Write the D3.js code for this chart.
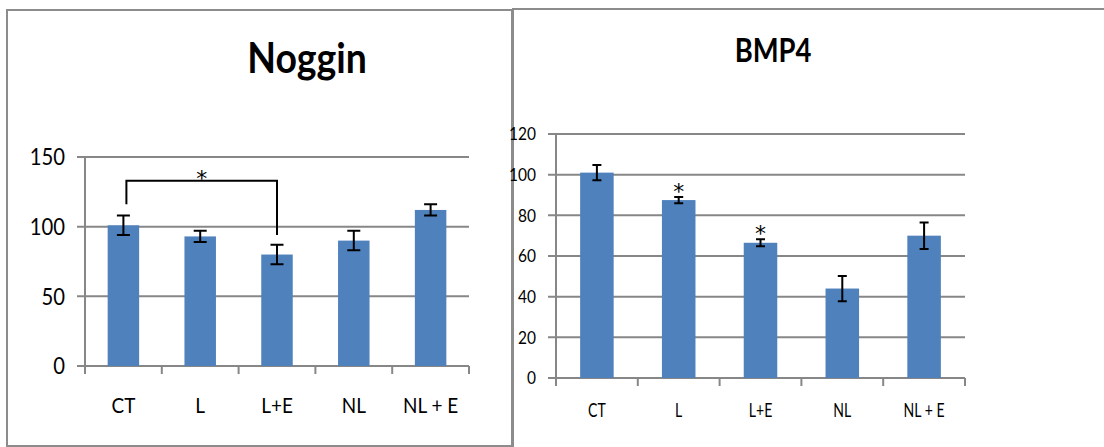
<!DOCTYPE html>
<html><head><meta charset="utf-8">
<script src="https://cdn.jsdelivr.net/npm/d3@7/dist/d3.min.js"></script>
<style>html,body{margin:0;padding:0;background:#fff;}svg{display:block;}</style>
</head><body>
<svg id="c" width="1104" height="447"></svg>
<script>
const categories = ["CT", "L", "L+E", "NL", "NL + E"];
const nogginMean = [101, 93, 80, 90, 112];
const nogginErr = [7, 4, 7, 7, 4];
const nogginTicks = [0, 50, 100, 150];
const bmp4Mean = [101, 87.5, 66.5, 44, 70];
const bmp4Err = [3.7, 1.5, 1.7, 6.2, 6.5];
const bmp4Ticks = [0, 20, 40, 60, 80, 100, 120];
const bmp4Stars = [1, 2];
const nogginBracket = {from: 0, to: 2, top: 133, leftEnd: 116, rightEnd: 94};

const BAR = "#4f81bd", GRID = "#878787";
const FONT = "Lato, 'Open Sans', sans-serif";
const svg = d3.select("#c");

function txt(g, s, x, y, fs, sx, anchor, weight, family) {
  return g.append("text").attr("transform", `translate(${x},${y}) scale(${sx},1)`)
    .attr("text-anchor", anchor).attr("font-family", family || FONT).attr("font-size", fs)
    .attr("font-weight", weight || "normal").attr("fill", "#000").text(s);
}

function chart(cfg) {
  const g = svg.append("g");
  g.append("rect").attr("x", cfg.box[0]).attr("y", cfg.box[1]).attr("width", cfg.box[2]).attr("height", cfg.box[3])
    .attr("fill", "none").attr("stroke", "#8c8c8c").attr("stroke-width", 2);
  const x = d3.scaleBand().domain(categories).range([cfg.x0, cfg.x1]).paddingInner(0.59).paddingOuter(0.295);
  const y = d3.scaleLinear().domain([0, cfg.ymax]).range([cfg.y0, cfg.ytop]);
  g.selectAll(".grid").data(cfg.ticks).join("line")
    .attr("x1", cfg.x0 - 8).attr("x2", cfg.x1).attr("y1", d => y(d)).attr("y2", d => y(d))
    .attr("stroke", GRID).attr("stroke-width", 2);
  g.append("line").attr("x1", cfg.x0).attr("x2", cfg.x0).attr("y1", y(cfg.ymax)).attr("y2", cfg.y0 + 8)
    .attr("stroke", GRID).attr("stroke-width", 2);
  const bounds = d3.range(categories.length + 1).map(i => cfg.x0 + i * x.step());
  g.selectAll(".ct").data(bounds).join("line")
    .attr("x1", d => d).attr("x2", d => d).attr("y1", cfg.y0).attr("y2", cfg.y0 + 8)
    .attr("stroke", GRID).attr("stroke-width", 2);
  cfg.ticks.forEach(t => txt(g, t, cfg.x0 - 20, y(t) + cfg.tfs * 0.36, cfg.tfs, cfg.tsx, "end"));
  g.selectAll(".bar").data(categories).join("rect")
    .attr("x", d => x(d)).attr("width", x.bandwidth())
    .attr("y", (d, i) => y(cfg.mean[i])).attr("height", (d, i) => cfg.y0 - y(cfg.mean[i]))
    .attr("fill", BAR);
  categories.forEach((c, i) => {
    const cx = x(c) + x.bandwidth() / 2;
    const lo = y(cfg.mean[i] - cfg.err[i]), hi = y(cfg.mean[i] + cfg.err[i]);
    const w = cfg.cap / 2;
    g.append("path").attr("d", `M${cx},${lo}V${hi}M${cx - w},${lo}H${cx + w}M${cx - w},${hi}H${cx + w}`)
      .attr("stroke", "#000").attr("stroke-width", 2).attr("fill", "none");
  });
  categories.forEach(c => txt(g, c, x(c) + x.bandwidth() / 2, cfg.xly, cfg.xfs, cfg.xsx, "middle"));
  txt(g, cfg.title, cfg.tx, cfg.ty, cfg.tfs2, cfg.tsx2, "middle", "bold");
  return {g, x, y};
}

const L = chart({box: [7, 10, 505, 436], x0: 85, x1: 469, y0: 366, ytop: 157, ymax: 150,
  ticks: nogginTicks, mean: nogginMean, err: nogginErr, cap: 13,
  tfs: 23, tsx: 0.88, xfs: 22, xsx: 0.86, xly: 413,
  title: "Noggin", tx: 307, ty: 73, tfs2: 42, tsx2: 0.89});
{
  const {g, x, y} = L;
  const b = nogginBracket;
  const xa = x(categories[b.from]) + x.bandwidth() / 2 + 3;
  const xb = x(categories[b.to]) + x.bandwidth() / 2;
  g.append("path").attr("d", `M${xa},${y(b.leftEnd)}V${y(b.top)}H${xb}V${y(b.rightEnd)}`)
    .attr("stroke", "#000").attr("stroke-width", 2).attr("fill", "none");
  txt(g, "*", (xa + xb) / 2, y(b.top) + 5, 22, 1, "middle", "normal", "'DejaVu Sans', sans-serif");
}

const R = chart({box: [513, 9, 620, 460], x0: 556, x1: 965, y0: 378, ytop: 134, ymax: 120,
  ticks: bmp4Ticks, mean: bmp4Mean, err: bmp4Err, cap: 9,
  tfs: 18, tsx: 0.86, xfs: 19, xsx: 0.74, xly: 417,
  title: "BMP4", tx: 773, ty: 62, tfs2: 33, tsx2: 0.83});
{
  const {g, x, y} = R;
  bmp4Stars.forEach(i => {
    const cx = x(categories[i]) + x.bandwidth() / 2;
    txt(g, "*", cx, y(bmp4Mean[i] + bmp4Err[i]) + 2, 22, 1, "middle", "normal", "'DejaVu Sans', sans-serif");
  });
}
</script>
</body></html>
